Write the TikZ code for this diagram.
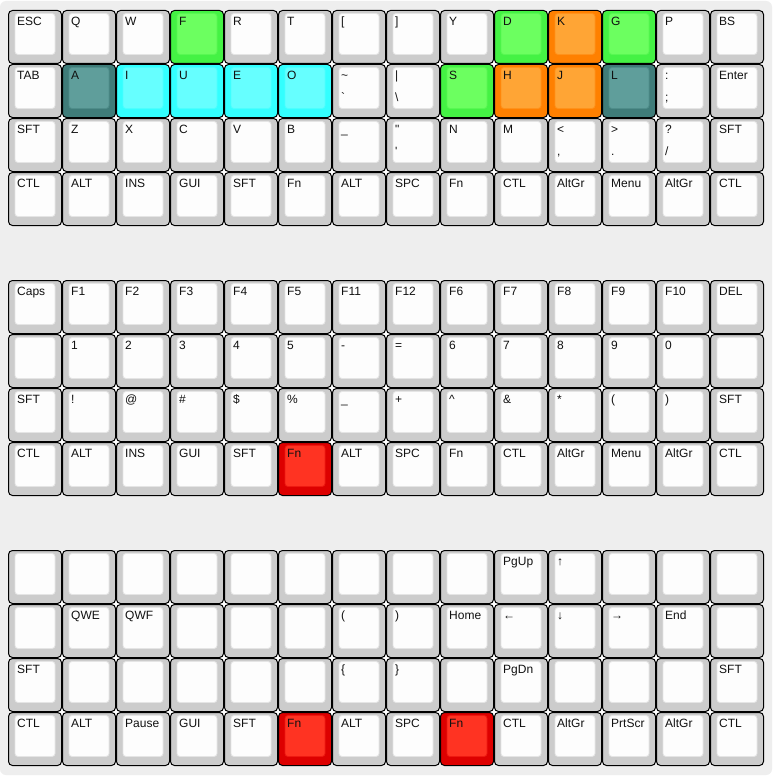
\documentclass[tikz,border=0pt]{standalone}
\usepackage{fontspec}
\newfontfamily\keyfont{Liberation Sans}
\usepackage{xcolor}
\usepackage{tikz}

\definecolor{boardbg}{HTML}{EEEEEE}
\definecolor{keygray}{HTML}{CCCCCC}
\definecolor{capwhite}{HTML}{FDFDFD}
\definecolor{legendtext}{HTML}{111111}
\definecolor{greenout}{HTML}{44F244}
\definecolor{greenin}{HTML}{6CFF60}
\definecolor{cyanout}{HTML}{33FFFF}
\definecolor{cyanin}{HTML}{66FFFF}
\definecolor{tealout}{HTML}{3F7C79}
\definecolor{tealin}{HTML}{5F9E9B}
\definecolor{orangeout}{HTML}{FF8000}
\definecolor{orangein}{HTML}{FFA535}
\definecolor{redout}{HTML}{DD0000}
\definecolor{redin}{HTML}{FF3322}

\tikzset{
  keyfill/.store in=\keyouter,
  capfill/.store in=\keyinner,
  green key/.style={keyfill=greenout, capfill=greenin},
  cyan key/.style={keyfill=cyanout, capfill=cyanin},
  teal key/.style={keyfill=tealout, capfill=tealin},
  orange key/.style={keyfill=orangeout, capfill=orangein},
  red key/.style={keyfill=redout, capfill=redin},
  % highlighted keys: layer-row-column
  hl-0-0-3/.style=green key, hl-0-0-9/.style=green key,
  hl-0-0-10/.style=orange key, hl-0-0-11/.style=green key,
  hl-0-1-1/.style=teal key, hl-0-1-2/.style=cyan key,
  hl-0-1-3/.style=cyan key, hl-0-1-4/.style=cyan key,
  hl-0-1-5/.style=cyan key, hl-0-1-8/.style=green key,
  hl-0-1-9/.style=orange key, hl-0-1-10/.style=orange key,
  hl-0-1-11/.style=teal key,
  hl-1-3-5/.style=red key,
  hl-2-3-5/.style=red key, hl-2-3-8/.style=red key,
  keybody/.style={rectangle, draw=black, line width=1pt, rounded corners=4pt, minimum size=53pt, inner sep=0pt},
  keycap/.style={rectangle, line width=0.8pt, rounded corners=3pt, minimum width=40pt, minimum height=41pt, inner sep=0pt},
  legend/.style={anchor=base west, inner sep=0pt, text=legendtext, font=\keyfont\fontsize{12}{14}\selectfont}
}

\newcommand{\duo}[2]{\rlap{\raisebox{-22pt}{#2}}#1}
\newcommand{\keyat}[4]{%
  \pgfmathsetmacro{\kx}{8+54*#3}%
  \pgfmathsetmacro{\ky}{10+270*#1+54*#2}%
  \begin{scope}
    \tikzset{keyfill=keygray, capfill=capwhite}%
    \edef\keystyle{\noexpand\tikzset{hl-#1-#2-#3/.try}}\keystyle
    \node[keybody, fill=\keyouter] (key-#1-#2-#3) at (\kx+27,\ky+27) {};
    \node[keycap, fill=\keyinner, draw=\keyouter!50!\keyinner] (cap-#1-#2-#3) at (\kx+27,\ky+24) {};
    \node[legend] (lbl-#1-#2-#3) at (\kx+9,\ky+15.5) {#4};
  \end{scope}}
\newcommand{\keyrow}[3]{\foreach \lbl [count=\c from 0] in {#3} {\keyat{#1}{#2}{\c}{\lbl}}}

\begin{document}
\begin{tikzpicture}[x=1pt, y=-1pt]
  \fill[white] (0,0) rectangle (777,776);
  \useasboundingbox (0,0) rectangle (777,776);
  \fill[boardbg, rounded corners=6pt] (0,1) rectangle (772,775);

  % white shows through at the inner key corners
  \foreach \l in {0,1,2}
    \fill[white] (14,16+270*\l) rectangle (758,214+270*\l);

  % base layer
  \keyrow{0}{0}{ESC,Q,W,F,R,T,{[},{]},Y,D,K,G,P,BS}
  \keyrow{0}{1}{TAB,A,I,U,E,O,{\duo{\textasciitilde}{`}},{\duo{|}{\textbackslash}},S,H,J,L,{\duo{:}{;}},Enter}
  \keyrow{0}{2}{SFT,Z,X,C,V,B,{\_},{\duo{"}{'}},N,M,{\duo{<}{,}},{\duo{>}{.}},{\duo{?}{/}},SFT}
  \keyrow{0}{3}{CTL,ALT,INS,GUI,SFT,Fn,ALT,SPC,Fn,CTL,AltGr,Menu,AltGr,CTL}

  % Fn layer
  \keyrow{1}{0}{Caps,F1,F2,F3,F4,F5,F11,F12,F6,F7,F8,F9,F10,DEL}
  \keyrow{1}{1}{{},1,2,3,4,5,{-},{=},6,7,8,9,0,{}}
  \keyrow{1}{2}{SFT,{!},{@},{\#},{\$},{\%},{\_},{+},{\textasciicircum},{\&},{*},{(},{)},SFT}
  \keyrow{1}{3}{CTL,ALT,INS,GUI,SFT,Fn,ALT,SPC,Fn,CTL,AltGr,Menu,AltGr,CTL}

  % Fn+Fn layer
  \keyrow{2}{0}{{},{},{},{},{},{},{},{},{},PgUp,{↑},{},{},{}}
  \keyrow{2}{1}{{},QWE,QWF,{},{},{},{(},{)},Home,{←},{↓},{→},End,{}}
  \keyrow{2}{2}{SFT,{},{},{},{},{},{\{},{\}},{},PgDn,{},{},{},SFT}
  \keyrow{2}{3}{CTL,ALT,Pause,GUI,SFT,Fn,ALT,SPC,Fn,CTL,AltGr,PrtScr,AltGr,CTL}
\end{tikzpicture}
\end{document}
